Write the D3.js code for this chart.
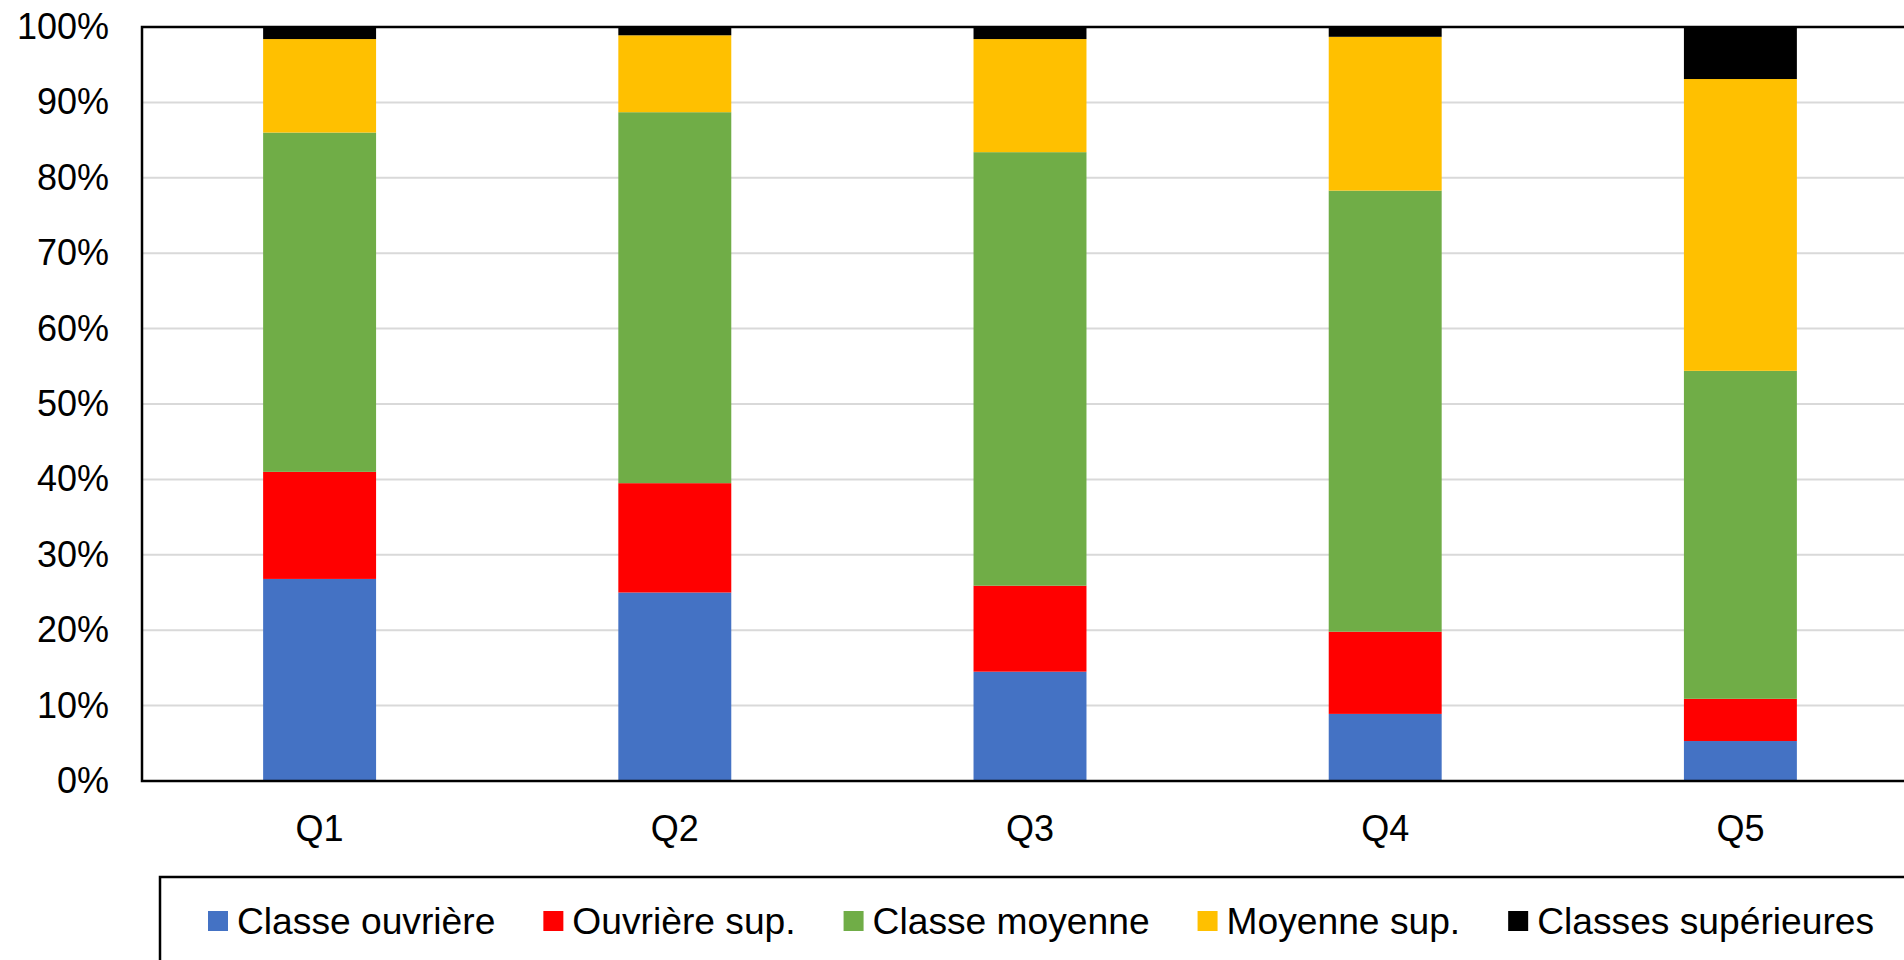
<!DOCTYPE html>
<html>
<head>
<meta charset="utf-8">
<script src="https://cdn.jsdelivr.net/npm/d3@7"></script>
<style>
  body { margin: 0; background: #fff; }
  svg { display: block; font-family: "Liberation Sans", Arial, sans-serif; }
</style>
</head>
<body>
<svg width="1904" height="960"></svg>
<script>
let quintiles = ['Q1', 'Q2', 'Q3', 'Q4', 'Q5']
let classes = ['Classe ouvrière', 'Ouvrière sup.', 'Classe moyenne', 'Moyenne sup.', 'Classes supérieures']
let colors = ['#4472C4', '#FF0000', '#70AD47', '#FFC000', '#000000']

// parts en %, par quintile
let ouvriere = [26.8, 25.0, 14.5, 8.9, 5.3]
let ouvriereSup = [14.2, 14.5, 11.4, 10.9, 5.6]
let moyenne = [45.0, 49.2, 57.5, 58.5, 43.5]
let moyenneSup = [12.4, 10.2, 15.0, 20.4, 38.7]
let superieures = [1.6, 1.1, 1.6, 1.3, 6.9]

let yTicks = [0, 10, 20, 30, 40, 50, 60, 70, 80, 90, 100]

let rows = quintiles.map((q, i) => ({
    q: q,
    'Classe ouvrière': ouvriere[i],
    'Ouvrière sup.': ouvriereSup[i],
    'Classe moyenne': moyenne[i],
    'Moyenne sup.': moyenneSup[i],
    'Classes supérieures': superieures[i]
}))

let series = d3.stack().keys(classes)(rows)

let plotLeft = 142, plotTop = 27, plotBottom = 781, plotRight = 1918

let x = d3.scaleBand().domain(quintiles).range([plotLeft, plotRight]).paddingInner(0.682).paddingOuter(0.341)
let y = d3.scaleLinear().domain([0, 100]).range([plotBottom, plotTop])
let color = d3.scaleOrdinal().domain(classes).range(colors)

let svg = d3.select('svg')

// grille
svg.append('g')
    .selectAll('line')
    .data(yTicks.slice(1, -1))
    .enter()
    .append('line')
    .attr('x1', plotLeft)
    .attr('x2', plotRight)
    .attr('y1', d => y(d))
    .attr('y2', d => y(d))
    .attr('stroke', '#d9d9d9')
    .attr('stroke-width', 2)

// barres empilées
svg.append('g')
    .selectAll('g')
    .data(series)
    .enter()
    .append('g')
    .attr('fill', d => color(d.key))
    .selectAll('rect')
    .data(d => d)
    .enter()
    .append('rect')
    .attr('x', d => x(d.data.q))
    .attr('width', x.bandwidth())
    .attr('y', d => y(d[1]))
    .attr('height', d => y(d[0]) - y(d[1]))

// cadre de la zone de tracé
svg.append('rect')
    .attr('x', plotLeft)
    .attr('y', plotTop)
    .attr('width', plotRight - plotLeft)
    .attr('height', plotBottom - plotTop)
    .attr('fill', 'none')
    .attr('stroke', '#000')
    .attr('stroke-width', 2.5)

// axe Y
let yAxis = svg.append('g')
    .attr('transform', `translate(${plotLeft},0)`)
    .call(d3.axisLeft(y).tickValues(yTicks).tickSize(0).tickPadding(33).tickFormat(d => d + '%'))
yAxis.select('.domain').remove()
yAxis.selectAll('text')
    .attr('font-size', 36)
    .attr('font-family', '"Liberation Sans", Arial, sans-serif')
    .attr('fill', '#000')

// axe X
let xAxis = svg.append('g')
    .attr('transform', `translate(0,${plotBottom})`)
    .call(d3.axisBottom(x).tickSize(0).tickPadding(34))
xAxis.select('.domain').remove()
xAxis.selectAll('text')
    .attr('font-size', 36)
    .attr('font-family', '"Liberation Sans", Arial, sans-serif')
    .attr('fill', '#000')

// légende
svg.append('rect')
    .attr('x', 160)
    .attr('y', 877)
    .attr('width', 1800)
    .attr('height', 200)
    .attr('fill', 'none')
    .attr('stroke', '#000')
    .attr('stroke-width', 2.5)

let legend = svg.append('g').attr('class', 'legend')
let lx = 208
classes.forEach(c => {
    legend.append('rect')
        .attr('x', lx)
        .attr('y', 911)
        .attr('width', 20)
        .attr('height', 20)
        .attr('fill', color(c))
    let t = legend.append('text')
        .attr('x', lx + 29)
        .attr('y', 934)
        .attr('font-size', 37.2)
        .attr('fill', '#000')
        .text(c)
    lx = lx + 29 + t.node().getComputedTextLength() + 48
})
</script>
</body>
</html>
